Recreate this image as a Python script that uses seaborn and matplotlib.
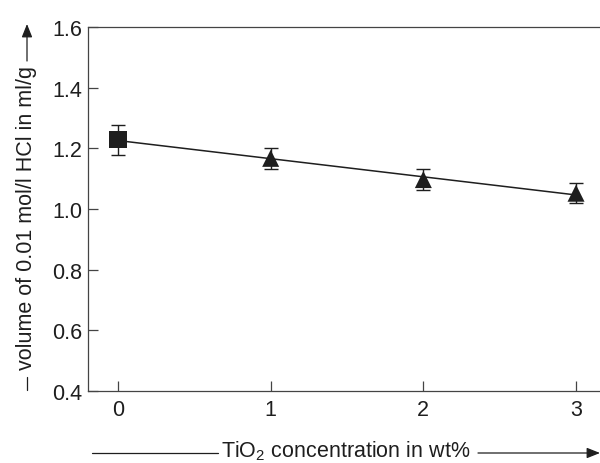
import numpy as np
import pandas as pd
import matplotlib
matplotlib.use("Agg")
import matplotlib.pyplot as plt
import seaborn as sns

# data
tio2_wt = [0, 1, 2, 3]
hcl_volume = [1.228, 1.167, 1.097, 1.052]
hcl_err = [0.050, 0.035, 0.034, 0.033]
sample_type = ["reference", "TiO2", "TiO2", "TiO2"]
x_ticks = [0, 1, 2, 3]
y_ticks = [0.4, 0.6, 0.8, 1.0, 1.2, 1.4, 1.6]

df = pd.DataFrame({"x": tio2_wt, "y": hcl_volume, "err": hcl_err, "kind": sample_type})

sns.set_theme(style="ticks")
plt.rcParams["font.family"] = ["Liberation Sans", "DejaVu Sans"]
plt.rcParams["mathtext.fontset"] = "custom"
plt.rcParams["mathtext.rm"] = "Liberation Sans"
plt.rcParams["mathtext.it"] = "Liberation Sans"

W, H = 600, 464
fig = plt.figure(figsize=(6, 4.64), dpi=100)
ax = fig.add_axes([88 / W, 1 - 392 / H, 1 - 88 / W + 0.01, (392 - 28) / H])

ink = "#1e1e1e"
spine_c = "#444444"

sns.regplot(data=df, x="x", y="y", scatter=False, ci=None, ax=ax,
            line_kws=dict(color=ink, lw=1.1), truncate=True)
ax.errorbar(df["x"], df["y"], yerr=df["err"], fmt="none", ecolor=ink,
            elinewidth=1.0, capsize=5, capthick=1.0, zorder=3)
sns.scatterplot(data=df, x="x", y="y", style="kind",
                markers={"reference": "s", "TiO2": "^"}, s=150,
                color=ink, edgecolor=ink, linewidth=0, legend=False, ax=ax, zorder=4)

ax.set_xlim(-0.1965, 3.157 + 0.01 * W / 152.67)
ax.set_ylim(0.4, 1.6)
ax.set_xticks(x_ticks)
ax.set_xticklabels([str(v) for v in x_ticks])
ax.set_yticks(y_ticks)
ax.set_yticklabels([f"{v:.1f}" for v in y_ticks])
ax.set_xlabel("")
ax.set_ylabel("")
ax.tick_params(direction="in", length=7, width=0.9, color=spine_c,
               labelsize=15.5, labelcolor=ink, pad=6)
ax.tick_params(axis="y", pad=4)
for s in ["left", "bottom", "top"]:
    ax.spines[s].set_color(spine_c)
    ax.spines[s].set_linewidth(0.9)
ax.spines["right"].set_visible(False)

# figure-pixel helpers
def fx(px):
    return px / W

def fy(py):
    return 1 - py / H

arrow_style = "-|>,head_length=8,head_width=3.2"

# x axis label with arrow lines
fig.text(fx(346), fy(451), "TiO$_2$ concentration in wt%", ha="center", va="center",
         fontsize=15.5, color=ink)
fig.add_artist(plt.Line2D([fx(92), fx(218)], [fy(454), fy(454)], color=ink, lw=0.9))
fig.add_artist(matplotlib.patches.FancyArrowPatch((fx(478), fy(454)), (fx(600), fy(454)),
               transform=fig.transFigure, arrowstyle=arrow_style,
               mutation_scale=1, color=ink, lw=0.9, shrinkA=0, shrinkB=0))

# y axis label with arrow lines
fig.text(fx(27), fy(218), "volume of 0.01 mol/l HCl in ml/g", ha="center", va="center",
         rotation=90, fontsize=15.5, color=ink)
fig.add_artist(plt.Line2D([fx(27), fx(27)], [fy(378), fy(391)], color=ink, lw=0.9))
fig.add_artist(matplotlib.patches.FancyArrowPatch((fx(27), fy(62)), (fx(27), fy(25)),
               transform=fig.transFigure, arrowstyle=arrow_style,
               mutation_scale=1, color=ink, lw=0.9, shrinkA=0, shrinkB=0))

fig.savefig("out.png", dpi=100)
